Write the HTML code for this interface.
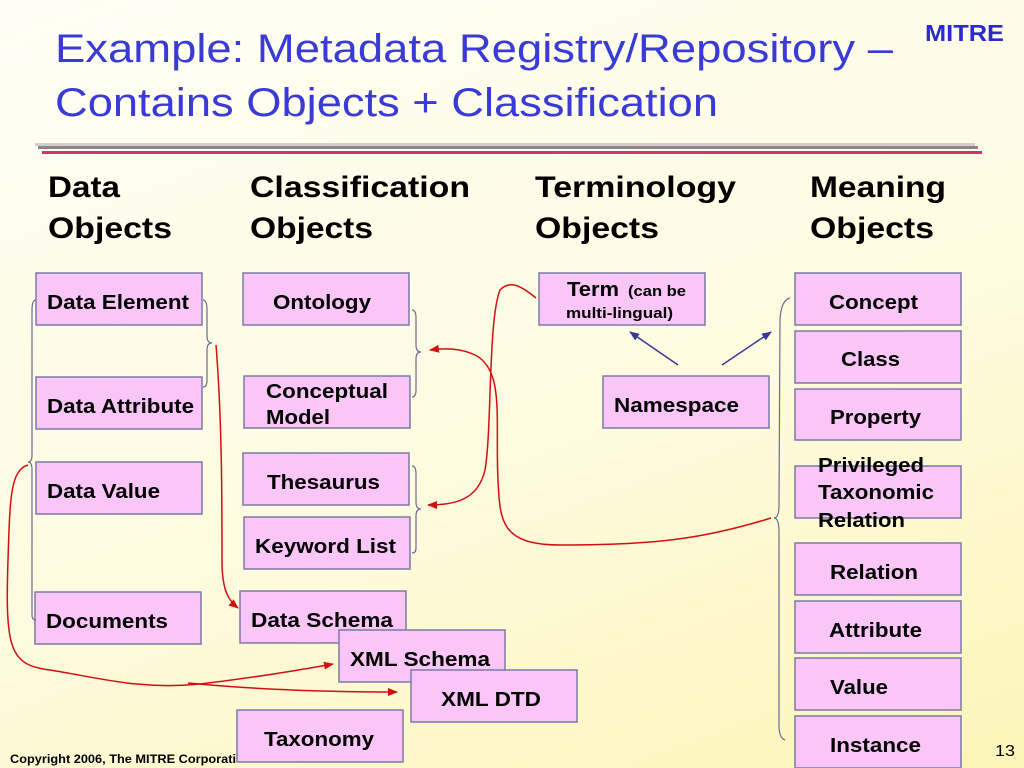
<!DOCTYPE html>
<html><head><meta charset="utf-8"><style>
html,body{margin:0;padding:0;}
body{width:1024px;height:768px;overflow:hidden;background:linear-gradient(160deg,#fffff6 0%,#fefbe0 55%,#fcf5b8 100%);font-family:"Liberation Sans",Arial,sans-serif;}
svg{display:block}
text{font-family:"Liberation Sans",Arial,sans-serif}
.b{fill:#f9c6f7;stroke:#7a7aa8;stroke-width:1.5}
.t{font-weight:bold;font-size:20px;fill:#000}
.h{font-weight:bold;font-size:30px;fill:#000}
.br{fill:none;stroke:#6a6a90;stroke-width:1.2}
.r{fill:none;stroke:#d01010;stroke-width:1.5}
</style></head><body>
<svg width="1024" height="768" viewBox="0 0 1024 768">
<defs>
<marker id="ar" markerWidth="10" markerHeight="8" refX="9" refY="4" orient="auto" markerUnits="userSpaceOnUse"><path d="M0,0 L10,4 L0,8 z" fill="#d01010"/></marker>
<marker id="ab" markerWidth="10" markerHeight="8" refX="9" refY="4" orient="auto" markerUnits="userSpaceOnUse"><path d="M0,0 L10,4 L0,8 z" fill="#3a3a90"/></marker>
</defs>
<text x="55" y="62" style="font-size:40px" fill="#3a3ad6" textLength="838" lengthAdjust="spacingAndGlyphs">Example: Metadata Registry/Repository –</text>
<text x="55" y="116" style="font-size:40px" fill="#3a3ad6" textLength="663" lengthAdjust="spacingAndGlyphs">Contains Objects + Classification</text>
<text x="925" y="41" style="font-size:23px;font-weight:bold" fill="#2a2ad0" textLength="79" lengthAdjust="spacingAndGlyphs">MITRE</text>
<rect x="35" y="143" width="940" height="3" fill="#cfcfcf"/>
<rect x="38" y="146" width="940" height="3" fill="#888"/>
<rect x="42" y="151" width="940" height="3" fill="#d8306a"/>
<text class="h" x="48" y="197" textLength="72" lengthAdjust="spacingAndGlyphs">Data</text><text class="h" x="48" y="238" textLength="124" lengthAdjust="spacingAndGlyphs">Objects</text>
<text class="h" x="250" y="197" textLength="220" lengthAdjust="spacingAndGlyphs">Classification</text><text class="h" x="250" y="238" textLength="123" lengthAdjust="spacingAndGlyphs">Objects</text>
<text class="h" x="535" y="197" textLength="201" lengthAdjust="spacingAndGlyphs">Terminology</text><text class="h" x="535" y="238" textLength="124" lengthAdjust="spacingAndGlyphs">Objects</text>
<text class="h" x="810" y="197" textLength="136" lengthAdjust="spacingAndGlyphs">Meaning</text><text class="h" x="810" y="238" textLength="124" lengthAdjust="spacingAndGlyphs">Objects</text>

<rect class="b" x="36" y="273" width="166" height="52"/><text class="t" x="47" y="309" textLength="142" lengthAdjust="spacingAndGlyphs">Data Element</text>
<rect class="b" x="36" y="377" width="166" height="52"/><text class="t" x="47" y="413" textLength="147" lengthAdjust="spacingAndGlyphs">Data Attribute</text>
<rect class="b" x="36" y="462" width="166" height="52"/><text class="t" x="47" y="498" textLength="113" lengthAdjust="spacingAndGlyphs">Data Value</text>
<rect class="b" x="35" y="592" width="166" height="52"/><text class="t" x="46" y="628" textLength="122" lengthAdjust="spacingAndGlyphs">Documents</text>

<rect class="b" x="243" y="273" width="166" height="52"/><text class="t" x="273" y="309" textLength="98" lengthAdjust="spacingAndGlyphs">Ontology</text>
<rect class="b" x="244" y="376" width="166" height="52"/><text class="t" x="266" y="398" textLength="122" lengthAdjust="spacingAndGlyphs">Conceptual</text><text class="t" x="266" y="424" textLength="64" lengthAdjust="spacingAndGlyphs">Model</text>
<rect class="b" x="243" y="453" width="166" height="52"/><text class="t" x="267" y="489" textLength="113" lengthAdjust="spacingAndGlyphs">Thesaurus</text>
<rect class="b" x="244" y="517" width="166" height="52"/><text class="t" x="255" y="553" textLength="141" lengthAdjust="spacingAndGlyphs">Keyword List</text>
<rect class="b" x="240" y="591" width="166" height="52"/><text class="t" x="251" y="627" textLength="142" lengthAdjust="spacingAndGlyphs">Data Schema</text>
<rect class="b" x="339" y="630" width="166" height="52"/><text class="t" x="350" y="666" textLength="140" lengthAdjust="spacingAndGlyphs">XML Schema</text>
<rect class="b" x="411" y="670" width="166" height="52"/><text class="t" x="441" y="706" textLength="100" lengthAdjust="spacingAndGlyphs">XML DTD</text>
<rect class="b" x="237" y="710" width="166" height="52"/><text class="t" x="264" y="746" textLength="110" lengthAdjust="spacingAndGlyphs">Taxonomy</text>

<rect class="b" x="539" y="273" width="166" height="52"/><text class="t" x="567" y="296" textLength="52" lengthAdjust="spacingAndGlyphs">Term</text><text class="t" x="628" y="296" style="font-size:15px" textLength="58" lengthAdjust="spacingAndGlyphs">(can be</text><text class="t" x="566" y="318" style="font-size:15px" textLength="107" lengthAdjust="spacingAndGlyphs">multi-lingual)</text>
<rect class="b" x="603" y="376" width="166" height="52"/><text class="t" x="614" y="412" textLength="125" lengthAdjust="spacingAndGlyphs">Namespace</text>

<rect class="b" x="795" y="273" width="166" height="52"/><text class="t" x="829" y="309" textLength="89" lengthAdjust="spacingAndGlyphs">Concept</text>
<rect class="b" x="795" y="331" width="166" height="52"/><text class="t" x="841" y="366" textLength="59" lengthAdjust="spacingAndGlyphs">Class</text>
<rect class="b" x="795" y="389" width="166" height="51"/><text class="t" x="830" y="424" textLength="91" lengthAdjust="spacingAndGlyphs">Property</text>
<rect class="b" x="795" y="466" width="166" height="52"/><text class="t" x="818" y="472" textLength="106" lengthAdjust="spacingAndGlyphs">Privileged</text><text class="t" x="818" y="499" textLength="116" lengthAdjust="spacingAndGlyphs">Taxonomic</text><text class="t" x="818" y="527" textLength="87" lengthAdjust="spacingAndGlyphs">Relation</text>
<rect class="b" x="795" y="543" width="166" height="52"/><text class="t" x="830" y="579" textLength="88" lengthAdjust="spacingAndGlyphs">Relation</text>
<rect class="b" x="795" y="601" width="166" height="52"/><text class="t" x="829" y="637" textLength="93" lengthAdjust="spacingAndGlyphs">Attribute</text>
<rect class="b" x="795" y="658" width="166" height="52"/><text class="t" x="830" y="694" textLength="58" lengthAdjust="spacingAndGlyphs">Value</text>
<rect class="b" x="795" y="716" width="166" height="52"/><text class="t" x="830" y="752" textLength="91" lengthAdjust="spacingAndGlyphs">Instance</text>

<text x="10" y="763" style="font-size:12px;font-weight:bold" fill="#000" textLength="226" lengthAdjust="spacingAndGlyphs">Copyright 2006, The MITRE Corporati</text>
<text x="995" y="756" style="font-size:16px" fill="#000" textLength="20" lengthAdjust="spacingAndGlyphs">13</text>

<path class="br" d="M36,300 Q32,300 32,310 L32,455 Q32,462 28,462 Q32,462 32,470 L32,615 Q32,620 36,620"/>
<path class="br" d="M203,300 Q207,300 207,310 L207,336 Q207,343 212,343 Q207,343 207,350 L207,380 Q207,387 203,387"/>
<path class="br" d="M412,310 Q416,310 416,318 L416,345 Q416,352 421,352 Q416,352 416,359 L416,390 Q416,397 412,397"/>
<path class="br" d="M412,466 Q416,466 416,474 L416,502 Q416,509 421,509 Q416,509 416,516 L416,548 Q416,553 412,553"/>
<path class="br" d="M790,298 Q781,300 780,320 L779,505 Q779,518 774,518 Q779,518 779,532 L779,725 Q779,738 785,740"/>

<path class="r" marker-end="url(#ar)" d="M216,345 C222,420 222,500 222,560 C222,590 228,600 238,608"/>
<path class="r" marker-end="url(#ar)" d="M536,298 C520,285 510,280 500,290 C488,320 492,430 485,470 C478,500 455,505 428,505"/>
<path class="r" marker-end="url(#ar)" d="M771,518 C700,540 650,545 560,545 C500,545 500,520 498,480 C495,420 505,370 475,355 C460,348 445,348 430,350"/>
<path class="r" marker-end="url(#ar)" d="M28,465 C10,470 10,500 8,560 C5,650 10,665 50,670 C100,678 140,690 200,684 C260,677 300,670 333,664"/>
<path class="r" marker-end="url(#ar)" d="M188,683 C260,690 330,692 397,692"/>

<line x1="678" y1="365" x2="630" y2="332" stroke="#3a3a90" stroke-width="1.5" marker-end="url(#ab)"/>
<line x1="722" y1="365" x2="771" y2="332" stroke="#3a3a90" stroke-width="1.5" marker-end="url(#ab)"/>
</svg>
</body></html>
